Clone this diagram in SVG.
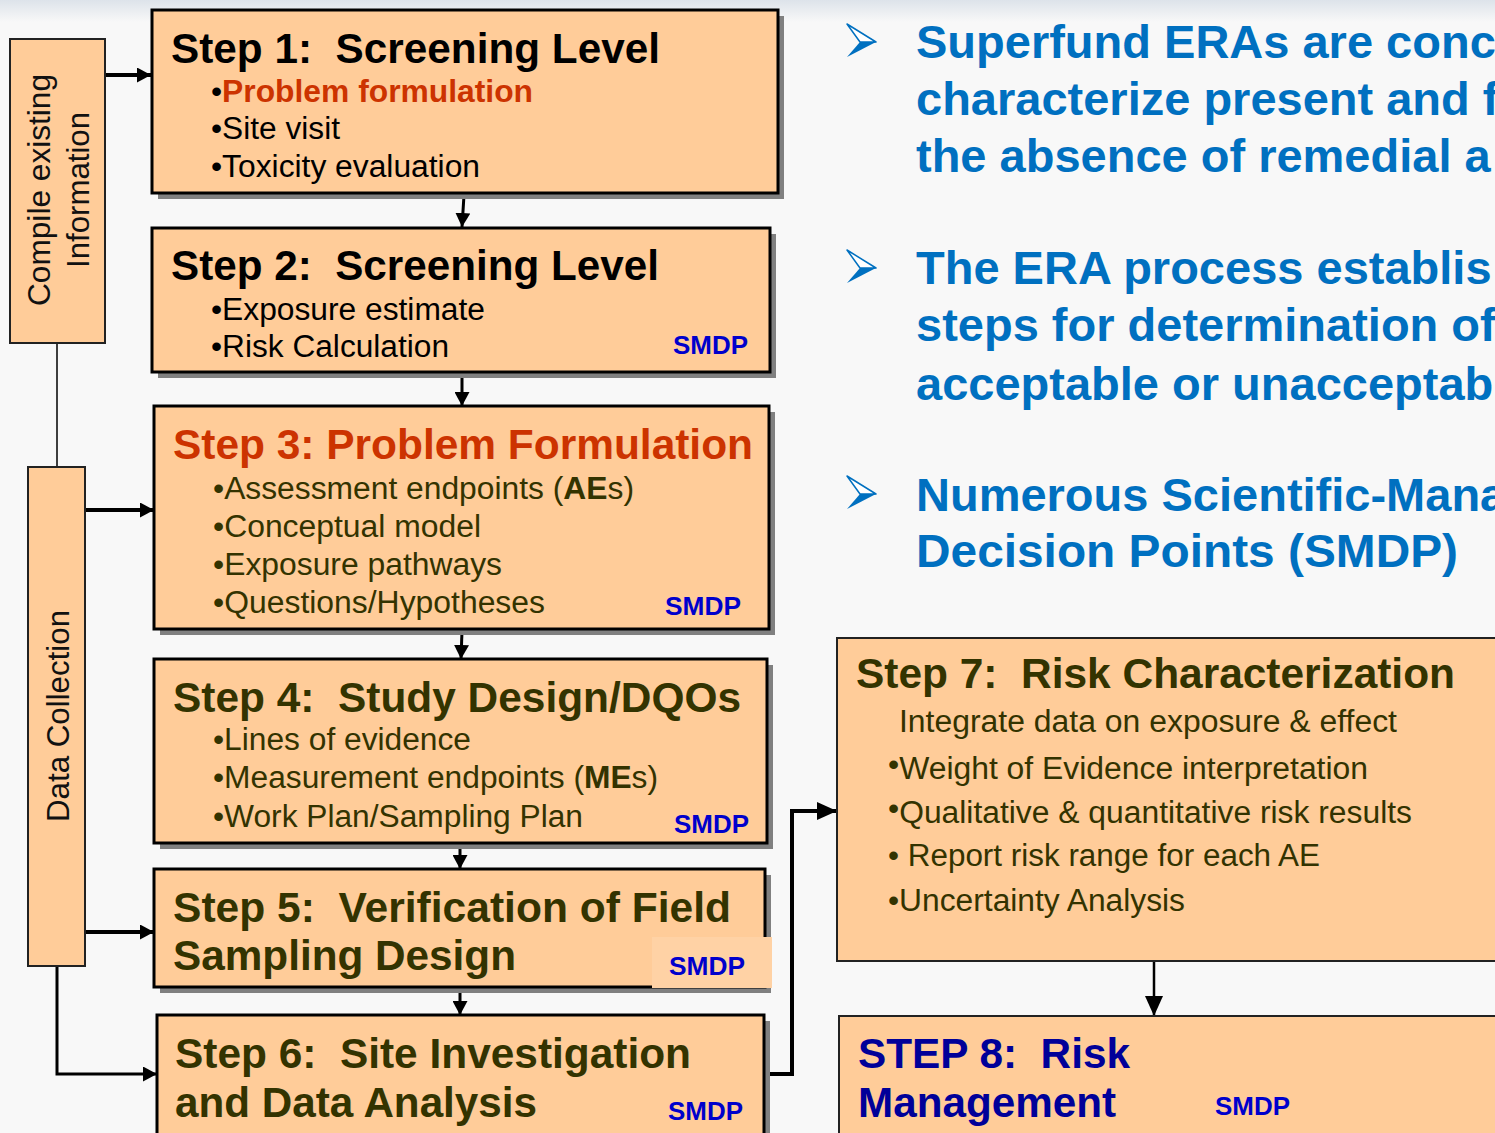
<svg xmlns="http://www.w3.org/2000/svg" width="1495" height="1133" viewBox="0 0 1495 1133">
  <defs>
    <linearGradient id="topHaze" x1="0" y1="0" x2="0" y2="1">
      <stop offset="0" stop-color="#dde3ea"/>
      <stop offset="1" stop-color="#f8f8f8"/>
    </linearGradient>
    <marker id="head" viewBox="0 0 10 10" refX="10" refY="5" markerWidth="14" markerHeight="15" markerUnits="userSpaceOnUse" orient="auto" preserveAspectRatio="none">
      <path d="M0,0 L10,5 L0,10 Z" fill="#000"/>
    </marker>
    <marker id="headLong" viewBox="0 0 10 10" refX="10" refY="5" markerWidth="20" markerHeight="18" markerUnits="userSpaceOnUse" orient="auto" preserveAspectRatio="none">
      <path d="M0,0 L10,5 L0,10 Z" fill="#000"/>
    </marker>
  </defs>
  <style>
    text { font-family: "Liberation Sans", Arial, sans-serif; white-space: pre; }
    .box { fill: #ffcc99; stroke: #000; stroke-width: 3; }
    .thin { fill: #ffcc99; stroke: #222; stroke-width: 2; }
    .shadow { fill: #808080; }
    .title { font-size: 42px; font-weight: bold; }
    .item { font-size: 31px; }
    .dark { fill: #333300; }
    .red { fill: #cc3300; }
    .smdp { font-size: 26px; font-weight: bold; fill: #0000cc; }
    .side { font-size: 31px; fill: #111; }
    .point { font-size: 47px; font-weight: bold; fill: #0070c0; }
    .wire { fill: none; stroke: #000; }
  </style>

  <!-- page background -->
  <rect x="0" y="0" width="1495" height="1133" fill="#f8f8f8"/>
  <rect x="0" y="0" width="1495" height="22" fill="url(#topHaze)"/>

  <!-- connectors -->
  <g id="connectors">
    <line class="wire" x1="106" y1="75" x2="151" y2="75" stroke-width="4" marker-end="url(#head)"/>
    <line class="wire" x1="57" y1="343" x2="57" y2="467" stroke-width="1.5"/>
    <line class="wire" x1="85" y1="510" x2="154" y2="510" stroke-width="4" marker-end="url(#head)"/>
    <line class="wire" x1="85" y1="932" x2="154" y2="932" stroke-width="4" marker-end="url(#head)"/>
    <polyline class="wire" points="57,966 57,1074 157,1074" stroke-width="3" marker-end="url(#head)"/>
    <line class="wire" x1="464" y1="195" x2="462" y2="227" stroke-width="3" marker-end="url(#head)"/>
    <line class="wire" x1="462" y1="375" x2="462" y2="406" stroke-width="3" marker-end="url(#head)"/>
    <line class="wire" x1="462" y1="631" x2="461" y2="659" stroke-width="3" marker-end="url(#head)"/>
    <line class="wire" x1="460" y1="845" x2="460" y2="869" stroke-width="3" marker-end="url(#head)"/>
    <line class="wire" x1="460" y1="989" x2="460" y2="1015" stroke-width="3" marker-end="url(#head)"/>
    <polyline class="wire" points="764,1074 792,1074 792,811 837,811" stroke-width="4" marker-end="url(#headLong)"/>
    <line class="wire" x1="1154" y1="962" x2="1154" y2="1016" stroke-width="2.5" marker-end="url(#headLong)"/>
  </g>

  <!-- side bars -->
  <g id="compile">
    <rect class="thin" x="10" y="39" width="95" height="304"/>
    <text class="side" transform="translate(50,190) rotate(-90)" text-anchor="middle" textLength="232" lengthAdjust="spacingAndGlyphs">Compile existing</text>
    <text class="side" transform="translate(89,190) rotate(-90)" text-anchor="middle" textLength="156" lengthAdjust="spacingAndGlyphs">Information</text>
  </g>
  <g id="data-collection">
    <rect class="thin" x="28" y="467" width="57" height="499"/>
    <text class="side" transform="translate(69,716) rotate(-90)" text-anchor="middle" textLength="212" lengthAdjust="spacingAndGlyphs">Data Collection</text>
  </g>

  <!-- step 1 -->
  <g id="step1">
    <rect class="shadow" x="158" y="16" width="626" height="183"/>
    <rect class="box" x="152" y="10" width="626" height="183"/>
    <text class="title" x="171" y="63" textLength="489" lengthAdjust="spacingAndGlyphs">Step 1:  Screening Level</text>
    <text class="item" x="211" y="102" textLength="322" lengthAdjust="spacingAndGlyphs">•<tspan class="red" font-weight="bold">Problem formulation</tspan></text>
    <text class="item" x="211" y="139" textLength="129" lengthAdjust="spacingAndGlyphs">•Site visit</text>
    <text class="item" x="211" y="177" textLength="269" lengthAdjust="spacingAndGlyphs">•Toxicity evaluation</text>
  </g>

  <!-- step 2 -->
  <g id="step2">
    <rect class="shadow" x="158" y="234" width="618" height="144"/>
    <rect class="box" x="152" y="228" width="618" height="144"/>
    <text class="title" x="171" y="280" textLength="488" lengthAdjust="spacingAndGlyphs">Step 2:  Screening Level</text>
    <text class="item" x="211" y="320" textLength="274" lengthAdjust="spacingAndGlyphs">•Exposure estimate</text>
    <text class="item" x="211" y="357" textLength="238" lengthAdjust="spacingAndGlyphs">•Risk Calculation</text>
    <text class="smdp" x="673" y="354" textLength="75" lengthAdjust="spacingAndGlyphs">SMDP</text>
  </g>

  <!-- step 3 -->
  <g id="step3">
    <rect class="shadow" x="160" y="412" width="615" height="223"/>
    <rect class="box" x="154" y="406" width="615" height="223"/>
    <text class="title red" x="173" y="459" textLength="580" lengthAdjust="spacingAndGlyphs">Step 3: Problem Formulation</text>
    <text class="item dark" x="213" y="499" textLength="421" lengthAdjust="spacingAndGlyphs">•Assessment endpoints (<tspan font-weight="bold">AE</tspan>s)</text>
    <text class="item dark" x="213" y="537" textLength="268" lengthAdjust="spacingAndGlyphs">•Conceptual model</text>
    <text class="item dark" x="213" y="575" textLength="289" lengthAdjust="spacingAndGlyphs">•Exposure pathways</text>
    <text class="item dark" x="213" y="613" textLength="332" lengthAdjust="spacingAndGlyphs">•Questions/Hypotheses</text>
    <text class="smdp" x="665" y="615" textLength="76" lengthAdjust="spacingAndGlyphs">SMDP</text>
  </g>

  <!-- step 4 -->
  <g id="step4">
    <rect class="shadow" x="160" y="665" width="613" height="184"/>
    <rect class="box" x="154" y="659" width="613" height="184"/>
    <text class="title dark" x="173" y="712" textLength="568" lengthAdjust="spacingAndGlyphs">Step 4:  Study Design/DQOs</text>
    <text class="item dark" x="213" y="750" textLength="258" lengthAdjust="spacingAndGlyphs">•Lines of evidence</text>
    <text class="item dark" x="213" y="788" textLength="445" lengthAdjust="spacingAndGlyphs">•Measurement endpoints (<tspan font-weight="bold">ME</tspan>s)</text>
    <text class="item dark" x="213" y="827" textLength="370" lengthAdjust="spacingAndGlyphs">•Work Plan/Sampling Plan</text>
    <text class="smdp" x="674" y="833" textLength="75" lengthAdjust="spacingAndGlyphs">SMDP</text>
  </g>

  <!-- step 5 -->
  <g id="step5">
    <rect class="shadow" x="160" y="875" width="611" height="118"/>
    <rect class="box" x="154" y="869" width="611" height="118"/>
    <rect x="652" y="937" width="120" height="51" fill="#ffd2a5"/>
    <text class="title dark" x="173" y="922" textLength="558" lengthAdjust="spacingAndGlyphs">Step 5:  Verification of Field</text>
    <text class="title dark" x="173" y="970" textLength="343" lengthAdjust="spacingAndGlyphs">Sampling Design</text>
    <text class="smdp" x="669" y="975" textLength="76" lengthAdjust="spacingAndGlyphs">SMDP</text>
  </g>

  <!-- step 6 -->
  <g id="step6">
    <rect class="shadow" x="163" y="1021" width="607" height="130"/>
    <rect class="box" x="157" y="1015" width="607" height="130"/>
    <text class="title dark" x="175" y="1068" textLength="516" lengthAdjust="spacingAndGlyphs">Step 6:  Site Investigation</text>
    <text class="title dark" x="175" y="1117" textLength="362" lengthAdjust="spacingAndGlyphs">and Data Analysis</text>
    <text class="smdp" x="668" y="1120" textLength="75" lengthAdjust="spacingAndGlyphs">SMDP</text>
  </g>

  <!-- step 7 -->
  <g id="step7">
    <rect class="thin" x="837" y="638" width="680" height="323"/>
    <text class="title dark" x="856" y="688" textLength="599" lengthAdjust="spacingAndGlyphs">Step 7:  Risk Characterization</text>
    <text class="item dark" x="899" y="732" textLength="498" lengthAdjust="spacingAndGlyphs">Integrate data on exposure &amp; effect</text>
    <text class="item dark" x="888" y="779" textLength="480" lengthAdjust="spacingAndGlyphs"><tspan dy="-4">•</tspan><tspan dy="4">Weight of Evidence interpretation</tspan></text>
    <text class="item dark" x="888" y="823" textLength="524" lengthAdjust="spacingAndGlyphs"><tspan dy="-4">•</tspan><tspan dy="4">Qualitative &amp; quantitative risk results</tspan></text>
    <text class="item dark" x="888" y="866" textLength="432" lengthAdjust="spacingAndGlyphs">• Report risk range for each AE</text>
    <text class="item dark" x="888" y="911" textLength="297" lengthAdjust="spacingAndGlyphs">•Uncertainty Analysis</text>
  </g>

  <!-- step 8 -->
  <g id="step8">
    <rect class="thin" x="839" y="1016" width="680" height="140"/>
    <text class="title" fill="#000099" x="858" y="1068" textLength="272" lengthAdjust="spacingAndGlyphs">STEP 8:  Risk</text>
    <text class="title" fill="#000099" x="858" y="1117" textLength="258" lengthAdjust="spacingAndGlyphs">Management</text>
    <text class="smdp" x="1215" y="1115" textLength="75" lengthAdjust="spacingAndGlyphs">SMDP</text>
  </g>

  <!-- key points with arrowhead bullets -->
  <g id="points">
    <g id="bullet1" transform="translate(0,0)">
      <path d="M847,24 L876,42 L860,42 Z" fill="#ffffff" stroke="#0070c0" stroke-width="1.5" stroke-linejoin="round"/>
      <path d="M860,42 L876,42 L847,57 Z" fill="#0070c0"/>
    </g>
    <g id="bullet2" transform="translate(0,226)">
      <path d="M847,24 L876,42 L860,42 Z" fill="#ffffff" stroke="#0070c0" stroke-width="1.5" stroke-linejoin="round"/>
      <path d="M860,42 L876,42 L847,57 Z" fill="#0070c0"/>
    </g>
    <g id="bullet3" transform="translate(0,452)">
      <path d="M847,24 L876,42 L860,42 Z" fill="#ffffff" stroke="#0070c0" stroke-width="1.5" stroke-linejoin="round"/>
      <path d="M860,42 L876,42 L847,57 Z" fill="#0070c0"/>
    </g>
    <text class="point" x="916" y="58">Superfund ERAs are conc</text>
    <text class="point" x="916" y="115">characterize present and f</text>
    <text class="point" x="916" y="172">the absence of remedial a</text>
    <text class="point" x="916" y="284">The ERA process establis</text>
    <text class="point" x="916" y="341">steps for determination of</text>
    <text class="point" x="916" y="400">acceptable or unacceptab</text>
    <text class="point" x="916" y="511">Numerous Scientific-Mana</text>
    <text class="point" x="916" y="567" textLength="542" lengthAdjust="spacingAndGlyphs">Decision Points (SMDP)</text>
  </g>
</svg>
